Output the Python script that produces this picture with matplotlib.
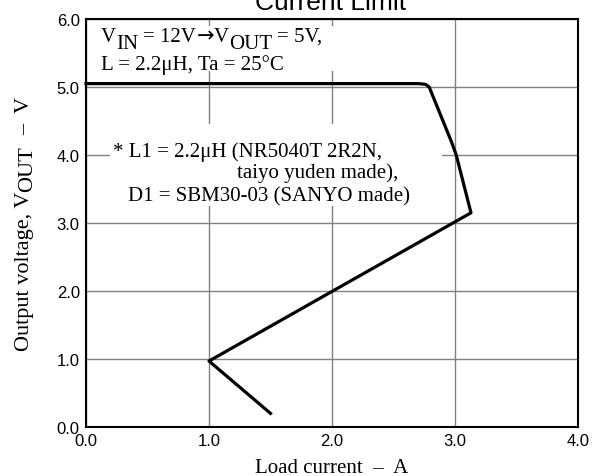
import matplotlib
matplotlib.use("Agg")
import matplotlib.pyplot as plt
from matplotlib.patches import Rectangle
from matplotlib.transforms import offset_copy

# Data
load_current = [0.0, 2.70, 2.76, 2.79, 2.97, 3.01, 3.13, 1.0, 1.5]
output_voltage = [5.05, 5.05, 5.04, 5.0, 4.2, 4.0, 3.15, 0.97, 0.2]
x_ticks = [0.0, 1.0, 2.0, 3.0, 4.0]
y_ticks = [0.0, 1.0, 2.0, 3.0, 4.0, 5.0, 6.0]

SERIF = ['Liberation Serif', 'DejaVu Serif']
TS = 15  # text size

fig = plt.figure(figsize=(6.02, 4.77), dpi=100)
ax = fig.add_axes([86/602, 1-428/477, (578-86)/602, (428-20)/477])
renderer = fig.canvas.get_renderer()


def measure(s, size, family):
    t = fig.text(0, 0, s, family=family, fontsize=size)
    bb = t.get_window_extent(renderer)
    t.remove()
    return bb.width * 72 / fig.dpi


def rich(x, y, runs, size, transform, rotation=0, center=False, zorder=3):
    sp = 0.25 * size
    pieces = []
    total = 0.0
    for run in runs:
        s, drop = run[0], run[1]
        family = run[2] if len(run) > 2 else SERIF
        lead = len(s) - len(s.lstrip(' '))
        trail = len(s) - len(s.rstrip(' '))
        core = s.strip(' ')
        w = measure(core, size, family)
        pieces.append((lead * sp + total, core, drop, family))
        total += lead * sp + w + trail * sp
    start = -total / 2 if center else 0.0
    for adv, core, drop, family in pieces:
        a = start + adv
        if rotation == 0:
            dx, dy = a, -drop
        else:
            dx, dy = drop, a
        tr = offset_copy(transform, fig=fig, x=dx, y=dy, units='points')
        fig.text(x, y, core, transform=tr, family=family, fontsize=size,
                 ha='left', va='baseline', rotation=rotation,
                 rotation_mode='anchor', zorder=zorder)


ax.set_xlim(0, 4)
ax.set_ylim(0, 6)
ax.set_xticks(x_ticks)
ax.set_yticks(y_ticks)
ax.set_xticklabels([f"{v:.1f}" for v in x_ticks], family='Liberation Sans', fontsize=12)
ax.set_yticklabels([f"{v:.1f}" for v in y_ticks], family='Liberation Sans', fontsize=12)
ax.tick_params(axis='y', length=0, pad=4.5)
ax.tick_params(axis='x', length=0, pad=4.0)
ax.grid(True, color='#808080', linewidth=1.0, zorder=0)
ax.set_axisbelow(True)
for s in ax.spines.values():
    s.set_linewidth(1.5)
    s.set_zorder(5)

ax.plot(load_current, output_voltage, color='black', linewidth=2.3, zorder=4,
        solid_joinstyle='round', clip_on=False)

# condition text box
ax.add_patch(Rectangle((0.02, 5.24), 2.15, 0.66, facecolor='white', edgecolor='none', zorder=1))
rich(0.122, 5.676, [("V", 0), ("IN", 5), (" = 12V", 0), ("→", 0, ['DejaVu Sans']),
                    ("V", 0), ("OUT", 5), (" = 5V,", 0)],
     TS, ax.transData)
ax.text(0.122, 5.265, "L = 2.2μH, Ta = 25°C", family=SERIF, fontsize=TS,
        va='baseline', ha='left', zorder=3)

# parts text box
ax.add_patch(Rectangle((0.195, 3.25), 2.70, 1.21, facecolor='white', edgecolor='none', zorder=1))
ax.text(0.22, 3.985, "* L1 = 2.2μH (NR5040T 2R2N,", family=SERIF, fontsize=TS,
        va='baseline', ha='left', zorder=3)
ax.text(1.228, 3.676, "taiyo yuden made),", family=SERIF, fontsize=TS,
        va='baseline', ha='left', zorder=3)
ax.text(0.342, 3.324, "D1 = SBM30-03 (SANYO made)", family=SERIF, fontsize=TS,
        va='baseline', ha='left', zorder=3)

# axis labels
fig.text(332/602, 1-473/477, "Load current  –  A", family=SERIF, fontsize=TS,
         ha='center', va='baseline')
rich(29/602, 1-224/477, [("Output voltage, V", 0), ("OUT", 2), ("  –  V", 0)],
     16, fig.transFigure, rotation=90, center=True)

fig.text(331/602, 1-10/477, "Current Limit", family='Liberation Sans', fontsize=19,
         ha='center', va='baseline')

fig.savefig("out.png", dpi=100)
